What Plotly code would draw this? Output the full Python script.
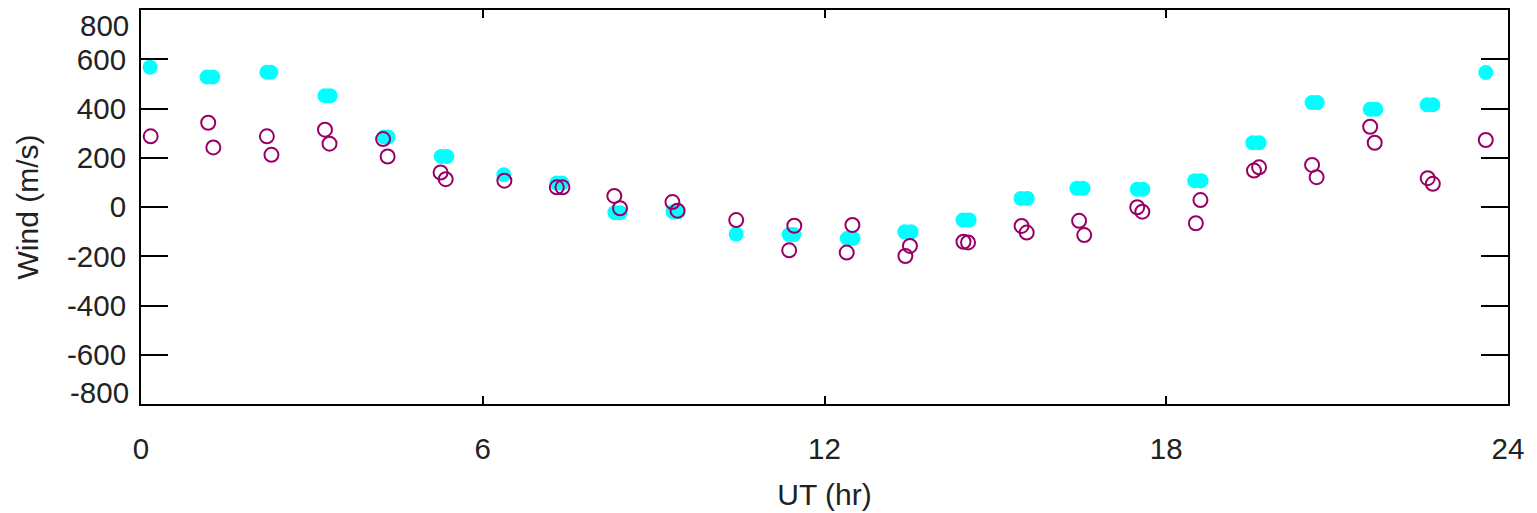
import plotly.graph_objects as go

# ---- data ----
cyan_x = [0.16, 1.16, 1.26, 2.21, 2.28, 3.23, 3.32, 4.27, 4.34, 5.27, 5.37, 6.37,
          7.30, 7.39, 8.32, 8.41, 9.34, 9.43, 10.45, 11.38, 11.46, 12.40, 12.50,
          13.41, 13.52, 14.43, 14.54, 15.45, 15.56, 16.43, 16.54, 17.49, 17.59,
          18.50, 18.61, 19.52, 19.63, 20.56, 20.65, 21.58, 21.68, 22.58, 22.68, 23.61]
cyan_y = [568, 528, 528, 547, 547, 452, 452, 284, 284, 205, 205, 131,
          97, 97, -23, -23, -19, -19, -110, -112, -112, -128, -128,
          -101, -101, -53, -53, 35, 35, 76, 76, 72, 72,
          107, 107, 261, 261, 424, 424, 397, 397, 415, 415, 546]

purple_x = [0.17, 1.18, 1.27, 2.21, 2.29, 3.23, 3.31, 4.25, 4.33, 5.26, 5.35, 6.38,
            7.30, 7.40, 8.31, 8.41, 9.33, 9.42, 10.45, 11.47, 11.38, 12.49, 12.39,
            13.50, 13.42, 14.44, 14.52, 15.46, 15.55, 16.47, 16.56, 17.49, 17.58,
            18.60, 18.52, 19.54, 19.63, 20.56, 20.64, 21.58, 21.66, 22.59, 22.68, 23.61]
purple_y = [287, 342, 242, 287, 212, 314, 257, 276, 205, 140, 113, 107,
            80, 80, 45, -5, 20, -15, -53, -76, -176, -73, -185,
            -158, -199, -141, -144, -77, -104, -56, -114, -1, -19,
            28, -66, 148, 161, 171, 121, 326, 261, 117, 94, 272]

x_ticks = [0, 6, 12, 18, 24]
y_ticks = [-800, -600, -400, -200, 0, 200, 400, 600, 800]
y_ticktext = ["" if abs(v) == 800 else str(v) for v in y_ticks]
edge_labels = [800, -800]

FONT = "Liberation Sans, Arial, Helvetica, sans-serif"
TXT = "#222222"
TICK_SIZE = 29.5
TITLE_SIZE = 30

fig = go.Figure()
fig.add_trace(go.Scatter(
    x=cyan_x, y=cyan_y, mode="markers",
    marker=dict(symbol="circle", size=15, color="#00FFFF", line=dict(width=0)),
    showlegend=False, hoverinfo="skip"))
fig.add_trace(go.Scatter(
    x=purple_x, y=purple_y, mode="markers",
    marker=dict(symbol="circle-open", size=14, color="#990066",
                line=dict(width=2, color="#990066")),
    showlegend=False, hoverinfo="skip"))

fig.update_layout(
    width=1537, height=513,
    margin=dict(l=141, r=29, t=10, b=109),
    paper_bgcolor="white", plot_bgcolor="white",
    font=dict(family=FONT, size=TICK_SIZE, color=TXT),
    xaxis=dict(
        range=[0, 24], tickvals=x_ticks, ticktext=[str(v) for v in x_ticks],
        ticks="inside", ticklen=8, tickwidth=2, tickcolor="black",
        showline=True, linewidth=2, linecolor="black", mirror="ticks",
        showgrid=False, zeroline=False, automargin=False,
        ticklabelstandoff=18,
        title=dict(text="UT (hr)", standoff=20, font=dict(size=TITLE_SIZE, color=TXT)),
        tickfont=dict(size=TICK_SIZE, color=TXT),
    ),
    yaxis=dict(
        range=[-800, 800], tickvals=y_ticks, ticktext=y_ticktext,
        ticks="inside", ticklen=27, tickwidth=2, tickcolor="black",
        showline=True, linewidth=2, linecolor="black", mirror="ticks",
        showgrid=False, zeroline=False, automargin=False,
        ticklabelstandoff=7,
        title=dict(text="Wind (m/s)", standoff=20, font=dict(size=TITLE_SIZE, color=TXT)),
        tickfont=dict(size=TICK_SIZE, color=TXT),
    ),
)

for v, shift in zip(edge_labels, [-15, 12]):
    fig.add_annotation(x=0, xref="paper", xanchor="right", xshift=-10,
                       y=v, yref="y", yanchor="middle", yshift=shift,
                       text=str(v), showarrow=False,
                       font=dict(family=FONT, size=TICK_SIZE, color=TXT))

fig.write_html("out.html")
